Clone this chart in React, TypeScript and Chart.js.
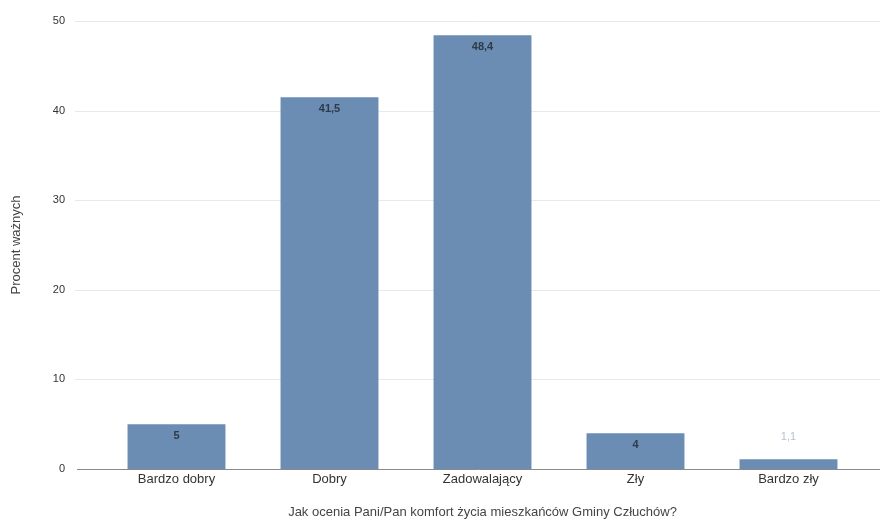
import React, { useEffect, useRef } from "react";
import { Chart, registerables } from "chart.js";

Chart.register(...registerables);

const categories = ["Bardzo dobry", "Dobry", "Zadowalający", "Zły", "Bardzo zły"];
const values = [5, 41.5, 48.4, 4, 1.1];
const yTicks = [0, 10, 20, 30, 40, 50];
const yTitle = "Procent ważnych";
const xTitle = "Jak ocenia Pani/Pan komfort życia mieszkańców Gminy Człuchów?";

const FONT = "'Liberation Sans', Arial, sans-serif";

const gridPlugin = {
  id: "extGrid",
  beforeDatasetsDraw(chart: any) {
    const { ctx } = chart;
    const y = chart.scales.y;
    ctx.save();
    yTicks.forEach((t) => {
      const py = Math.round(y.getPixelForValue(t)) + 0.5;
      ctx.beginPath();
      if (t === 0) {
        ctx.strokeStyle = "#8a8a8a";
        ctx.lineWidth = 1;
        ctx.moveTo(77, py);
      } else {
        ctx.strokeStyle = "#e8e8e8";
        ctx.lineWidth = 1;
        ctx.moveTo(75, py);
      }
      ctx.lineTo(880, py);
      ctx.stroke();
    });
    ctx.restore();
  },
};

const labelPlugin = {
  id: "valLabels",
  afterDatasetsDraw(chart: any) {
    const { ctx } = chart;
    const meta = chart.getDatasetMeta(0);
    ctx.save();
    ctx.textAlign = "center";
    ctx.textBaseline = "middle";
    meta.data.forEach((bar: any, i: number) => {
      const txt = String(values[i]).replace(".", ",");
      const h = bar.base - bar.y;
      if (h < 22) {
        ctx.fillStyle = "#b4c2d6";
        ctx.font = `11px ${FONT}`;
        ctx.fillText(txt, bar.x, bar.y - 22);
      } else {
        ctx.fillStyle = "#2e3a48";
        ctx.font = `bold 11px ${FONT}`;
        ctx.fillText(txt, bar.x, bar.y + 12);
      }
    });
    ctx.restore();
  },
};

export default function App() {
  const ref = useRef<HTMLCanvasElement>(null);
  useEffect(() => {
    document.body.style.margin = "0";
    const chart = new Chart(ref.current!, {
      type: "bar",
      data: {
        labels: categories,
        datasets: [
          {
            data: values,
            backgroundColor: "#6b8cb3",
            borderWidth: 0,
            barPercentage: 0.8,
            categoryPercentage: 0.8,
          },
        ],
      },
      options: {
        animation: false,
        responsive: false,
        maintainAspectRatio: false,
        layout: { padding: { top: 0, right: 15, left: 0, bottom: 0 } },
        plugins: {
          legend: { display: false },
          tooltip: { enabled: false },
        },
        scales: {
          x: {
            grid: { display: false, drawTicks: false },
            border: { display: false },
            ticks: { color: "#333", font: { family: FONT, size: 13 }, padding: 3, autoSkip: false, maxRotation: 0 },
            title: {
              display: true,
              text: xTitle,
              color: "#444",
              font: { family: FONT, size: 13 },
              padding: { top: 10, bottom: 0 },
            },
            afterFit: (s: any) => {
              s.height = 51;
            },
          },
          y: {
            min: 0,
            max: 50,
            afterBuildTicks: (s: any) => {
              s.ticks = yTicks.map((v) => ({ value: v }));
            },
            grid: { display: false, drawTicks: false },
            border: { display: false },
            ticks: { color: "#333", font: { family: FONT, size: 11 }, padding: 35 },
            title: {
              display: true,
              text: yTitle,
              color: "#444",
              font: { family: FONT, size: 13 },
              padding: { top: 9, bottom: 0 },
            },
            afterFit: (s: any) => {
              s.width = 100;
              s.paddingTop = 21;
              s.paddingBottom = 0;
            },
          },
        },
      },
      plugins: [gridPlugin, labelPlugin],
    });
    return () => chart.destroy();
  }, []);
  return (
    <div style={{ position: "absolute", left: 0, top: 0, width: 880, height: 520, background: "#fff" }}>
      <canvas ref={ref} width={880} height={520} />
    </div>
  );
}
